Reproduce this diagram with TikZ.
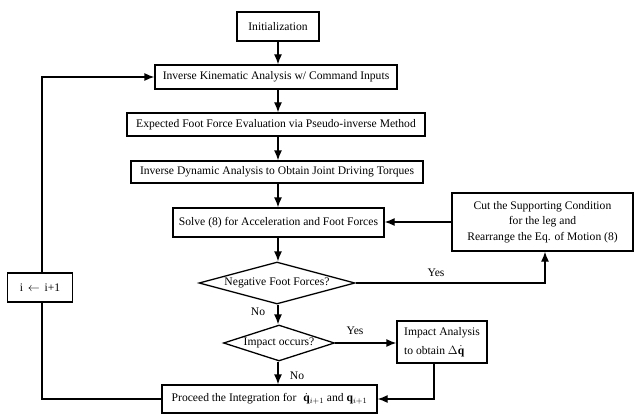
\documentclass[tikz,border=0pt]{standalone}
\usepackage{fontspec}
\setmainfont{Liberation Serif}
\usetikzlibrary{shapes.geometric,arrows.meta}
\newcommand{\fs}{\fontsize{11.6}{15.5}\selectfont}
\begin{document}
\begin{tikzpicture}[x=1pt,y=-1pt,line width=1.3pt,
  >={Latex[length=10pt,width=8pt]},
  box/.style={draw,rectangle,inner sep=0pt,align=center,font=\fs},
  dia/.style={draw,diamond,inner sep=0pt,font=\fs},
  lbl/.style={font=\fs,inner sep=0pt}]
\useasboundingbox (0,0) rectangle (636,417);
\node[box,minimum width=82pt,minimum height=29pt] (init) at (278,26.5) {Initialization};
\node[box,minimum width=242pt,minimum height=24pt] (ik) at (276,77) {Inverse Kinematic Analysis w/ Command Inputs};
\node[box,minimum width=298pt,minimum height=23pt] (eff) at (276,124.5) {Expected Foot Force Evaluation via Pseudo-inverse Method};
\node[box,minimum width=292pt,minimum height=22pt] (id) at (277,172) {Inverse Dynamic Analysis to Obtain Joint Driving Torques};
\node[box,minimum width=211pt,minimum height=29pt] (solve) at (278.5,222.5) {Solve (8) for Acceleration and Foot Forces};
\node[box,minimum width=181pt,minimum height=58pt] (cut) at (542.5,222) {Cut the Supporting Condition\\for the leg and\\Rearrange the Eq. of Motion (8)};
\node[dia,aspect=3.7,minimum width=156pt,minimum height=42pt] (neg) at (277,283) {Negative Foot Forces?};
\node[dia,aspect=3.1,minimum width=111pt,minimum height=36pt] (imp) at (279,343) {Impact occurs?};
\node[box,align=left,minimum width=90pt,minimum height=42pt] (ia) at (442,342) {Impact Analysis\\[3pt]to obtain $\Delta\dot{\mathbf{q}}$};
\node[box,minimum width=215pt,minimum height=28pt] (proc) at (269.5,399) {Proceed the Integration for\hspace{7pt}$\dot{\mathbf{q}}_{i+1}$ and $\mathbf{q}_{i+1}$};
\node[box,minimum width=65pt,minimum height=29pt] (inc) at (40,287.5) {i\, $\leftarrow$\, i+1};
\coordinate (c1) at (545,283);
\coordinate (c2) at (434,399);
\coordinate (c3) at (42,399);
\coordinate (c4) at (42,77);
\draw[->] (init) -- (init|-ik.north);
\draw[->] (ik.south-|init) -- (init|-eff.north);
\draw[->] (eff.south-|init) -- (init|-id.north);
\draw[->] (id.south-|init) -- (init|-solve.north);
\draw[->] (solve.south-|init) -- (neg.north-|init);
\draw[->] (neg.east) -- (c1) -- (c1|-cut.south);
\draw[->] (cut.west) -- (cut.west-|solve.east);
\draw[->] (neg.south-|init) -- (imp.north-|init);
\draw[->] (imp.east) -- (imp.east-|ia.west);
\draw[->] (imp.south-|init) -- (init|-proc.north);
\draw[->] (ia.south-|c2) -- (c2) -- (proc.east);
\draw (proc.west) -- (c3) -- (c3|-inc.south);
\draw[->] (c3|-inc.north) -- (c4) -- (ik.west);
\node[lbl] (y1) at (436,273) {Yes};
\node[lbl] (n1) at (258,312) {No};
\node[lbl] (y2) at (355,331) {Yes};
\node[lbl] (n2) at (297,376) {No};
\end{tikzpicture}
\end{document}
